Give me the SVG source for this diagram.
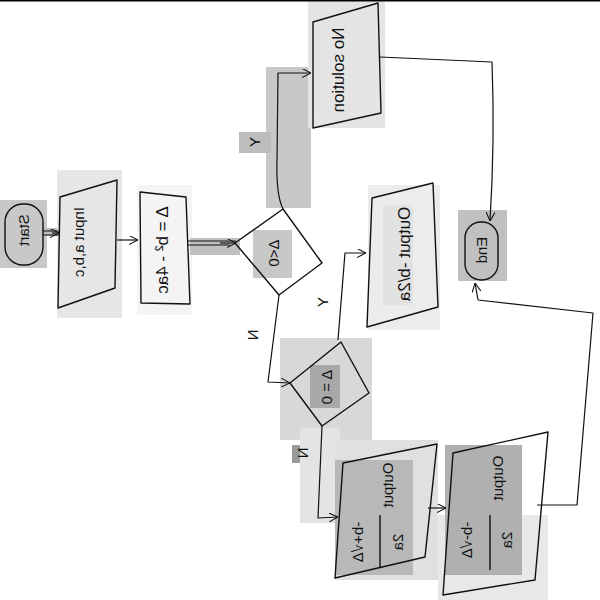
<svg xmlns="http://www.w3.org/2000/svg" width="600" height="600" viewBox="0 0 600 600">
<style>
.s{fill:none;stroke:#111;stroke-width:1.4;stroke-linejoin:round}
.c{fill:none;stroke:#111;stroke-width:1.2;stroke-linejoin:round}
.t{font-family:"Liberation Sans",Arial,sans-serif;font-size:15px;fill:#111;text-anchor:middle;dominant-baseline:central}
.b{font-size:17px}
</style>
<defs>
<marker id="a" viewBox="0 0 10 10" refX="10" refY="5" markerWidth="9" markerHeight="9" orient="auto" markerUnits="userSpaceOnUse">
<path d="M0,0 L10,5 L0,10" fill="none" stroke="#111" stroke-width="1.2"/>
</marker>
</defs>
<rect width="600" height="600" fill="#fff"/>
<g id="bg">
<rect x="0" y="200" width="47" height="68" fill="#c8c8c8"/>
<rect x="43" y="228" width="17" height="8" fill="#bbb"/>
<rect x="57" y="170" width="65" height="148" fill="#e6e6e6"/>
<rect x="137" y="185" width="55" height="130" fill="#f4f4f4"/>
<rect x="190" y="238" width="50" height="17" fill="#c0c0c0"/>
<rect x="266" y="67" width="45" height="141" fill="#c8c8c8"/>
<rect x="239" y="132" width="32" height="21" fill="#bdbdbd"/>
<rect x="308" y="0" width="77" height="128" fill="#e4e4e4"/>
<rect x="368" y="185" width="72" height="145" fill="#ececec"/>
<rect x="383" y="205" width="30" height="100" fill="#e2e2e2"/>
<rect x="458" y="210" width="49" height="71" fill="#c0c0c0"/>
<rect x="280" y="338" width="92" height="102" fill="#d8d8d8"/>
<rect x="292" y="445" width="20" height="18" fill="#9a9a9a"/>
<rect x="300" y="428" width="40" height="95" fill="#e4e4e4"/>
<rect x="335" y="440" width="103" height="140" fill="#e0e0e0"/>
<rect x="438" y="515" width="110" height="85" fill="#e8e8e8"/>
<rect x="445" y="445" width="77" height="130" fill="#b0b0b0"/>
<rect x="335" y="460" width="78" height="115" fill="#b8b8b8"/>
<rect x="253" y="230" width="39" height="48" fill="#c8c8c8"/>
<rect x="310" y="365" width="30" height="43" fill="#a8a8a8"/>
</g>
<line x1="0" y1="0.5" x2="600" y2="0.5" stroke="#000" stroke-width="2"/>
<g id="connectors">
<path class="c" d="M43,231 L59,231 M43,235 L59,235"/>
<path class="c" d="M52,233 L59,233" marker-end="url(#a)"/>
<path class="c" d="M117,240 L138,240" stroke="#666" marker-end="url(#a)"/>
<path class="c" d="M188,241 L236,241 M188,245 L230,245"/>
<path class="c" d="M220,243 L236,243" marker-end="url(#a)"/>
<path class="c" d="M283,209 Q276,195 277,160 L278,73 L311,73" marker-end="url(#a)"/>
<path class="c" d="M380,57 L492,62 Q495,140 490,221" marker-end="url(#a)"/>
<path class="c" d="M279,295 L268,382 L290,383" marker-end="url(#a)"/>
<path class="c" d="M338,340 L345,253 L366,253" marker-end="url(#a)"/>
<path class="c" d="M322,426 L318,518 L338,517" marker-end="url(#a)"/>
<path class="c" d="M428,508 L446,508" marker-end="url(#a)"/>
<path class="c" d="M537,505 L577,505 L593,313 L478,300 L475,283" marker-end="url(#a)"/>
</g>
<g id="start">
<rect class="s" x="5" y="204" width="38" height="61" rx="18"/>
<text class="t" transform="matrix(0 1 1 0 23 230)">Start</text>
</g>
<g id="input">
<polygon class="s" points="60,197 117,180 115,288 58,308"/>
<text class="t" transform="matrix(0 1 1 0 78 242)">Input a,b,c</text>
</g>
<g id="delta">
<polygon class="s" points="140,192 186,197 190,304 141,303"/>
<text class="t b" transform="matrix(0 1 1 0 162 250)">Δ = b² - 4ac</text>
</g>
<g id="dec1">
<polygon class="s" points="235,243 283,209 322,263 279,295"/>
<text class="t" transform="matrix(0 1 1 0 273 253)">Δ&lt;0</text>
</g>
<g id="nosol">
<polygon class="s" points="313,22 378,3 381,113 313,128"/>
<text class="t b" transform="matrix(0 1 1 0 338 70)">No solution</text>
</g>
<g id="out1">
<polygon class="s" points="372,198 433,183 438,307 367,327"/>
<text class="t b" transform="matrix(0 1 1 0 404 254)">Output -b/2a</text>
</g>
<g id="end">
<rect class="s" x="465" y="222" width="33" height="58" rx="16"/>
<text class="t" transform="matrix(0 1 1 0 481 250)">End</text>
</g>
<g id="dec2">
<polygon class="s" points="341,342 369,393 322,426 290,383"/>
<text class="t" transform="matrix(0 1 1 0 326 387)">Δ = 0</text>
</g>
<g id="out2">
<polygon class="s" points="343,463 437,444 425,557 335,578"/>
<text class="t" transform="matrix(0 1 1 0 387 485)">Output</text>
<text class="t" transform="matrix(0 1 1 0 357 542)">-b+√Δ</text>
<line class="s" x1="380" y1="515" x2="380" y2="568"/>
<text class="t" transform="matrix(0 1 1 0 397 542)">2a</text>
</g>
<g id="out3">
<polygon class="s" points="453,453 548,432 535,580 443,595"/>
<text class="t" transform="matrix(0 1 1 0 497 478)">Output</text>
<text class="t" transform="matrix(0 1 1 0 466 540)">-b-√Δ</text>
<line class="s" x1="490" y1="515" x2="490" y2="570"/>
<text class="t" transform="matrix(0 1 1 0 506 540)">2a</text>
</g>
<g id="labels">
<text class="t" transform="matrix(0 1 1 0 254 142)">Y</text>
<text class="t" transform="matrix(0 1 1 0 322 302)">Y</text>
<text class="t" transform="matrix(0 1 1 0 252 335)">N</text>
<text class="t" transform="matrix(0 1 1 0 302 453)">N</text>
</g>
</svg>
